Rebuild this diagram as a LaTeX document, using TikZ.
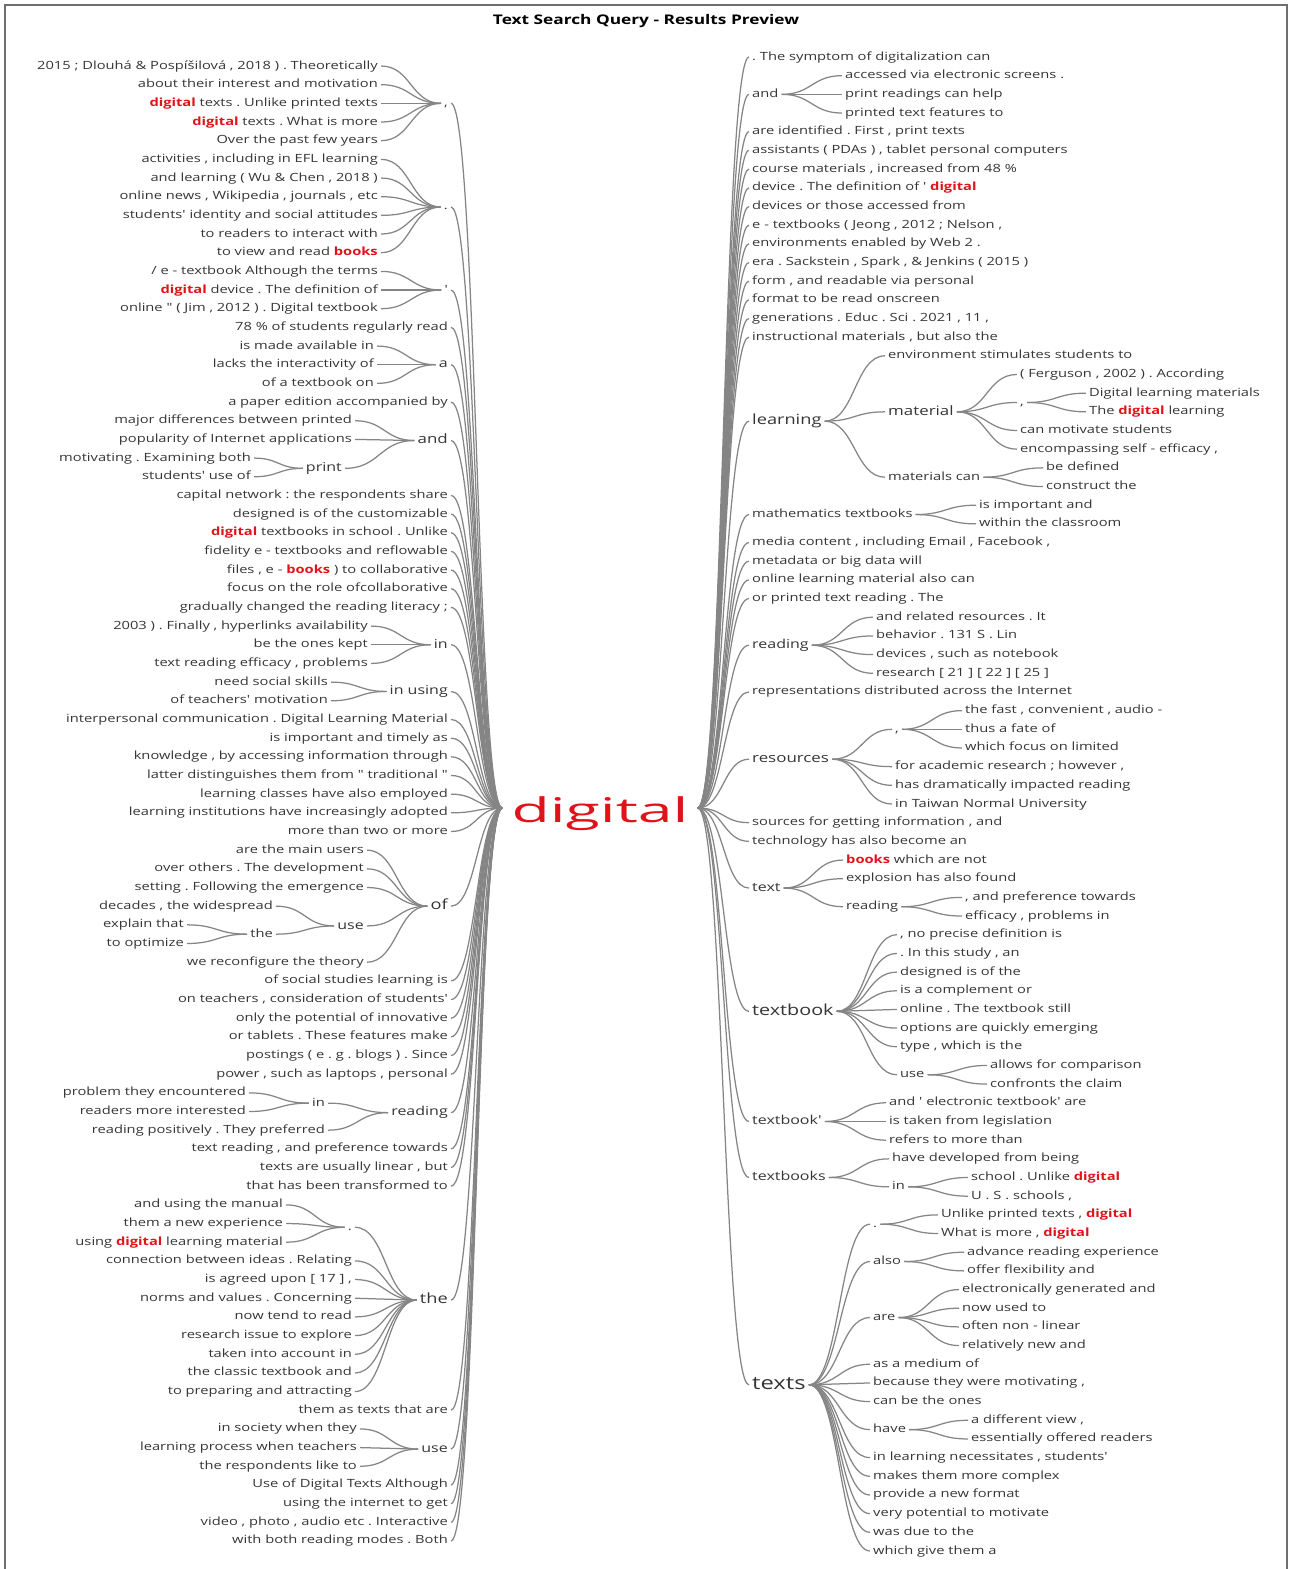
\documentclass[tikz,border=0pt]{standalone}
\usepackage{fontspec}
\usetikzlibrary{calc}
\newfontfamily\fs{Open Sans}[FakeStretch=1.3]
\newfontfamily\froot{Open Sans}[FakeStretch=1.84]
\definecolor{txt}{HTML}{353535}
\definecolor{lin}{HTML}{858585}
\definecolor{hl}{HTML}{E0131B}
\definecolor{framec}{HTML}{6E6E6E}
\newcommand\hl[1]{{\bfseries\color{hl}#1}}
\def\ly#1{66+#1*18.67}
\def\ry#1{57+#1*18.675}
\newcommand\cc[2]{\draw[conn] let \p1=(#1.east), \p2=(#2.west) in (\p1) .. controls ({(\x1+\x2)/2},\y1) and ({(\x1+\x2)/2},\y2) .. (\p2);}
\tikzset{
 wt/.style={inner xsep=3pt, inner ysep=0pt, text=txt},
 s1/.style={wt, font=\fs\frenchspacing\fontsize{11.3}{13}\selectfont, text height=8.5pt, text depth=2.5pt},
 s2/.style={wt, font=\fs\frenchspacing\fontsize{12.3}{14}\selectfont, text height=9.2pt, text depth=2.7pt},
 s3/.style={wt, font=\fs\frenchspacing\fontsize{13}{15}\selectfont, text height=9.8pt, text depth=2.9pt},
 s4/.style={wt, font=\fs\frenchspacing\fontsize{14}{16}\selectfont, text height=10.5pt, text depth=3.1pt},
 s5/.style={wt, font=\fs\frenchspacing\fontsize{15.2}{17}\selectfont, text height=11.4pt, text depth=3.3pt},
 s6/.style={wt, font=\fs\frenchspacing\fontsize{18.3}{20}\selectfont, text height=13.7pt, text depth=4pt},
 ae/.style={anchor=east}, aw/.style={anchor=west},
 conn/.style={draw=lin, line width=1.25pt},
}
\begin{document}
\frenchspacing
\begin{tikzpicture}[x=1pt,y=-1pt]
\useasboundingbox (0,0) rectangle (1290,1569);
\draw[framec, line width=2pt] (5,1569) -- (5,5) -- (1287,5) -- (1287,1569);
\node[font=\fs\bfseries\fontsize{13.3}{15}\selectfont, text=black] (title) at (646,21) {Text Search Query - Results Preview};
\node[font=\froot\fontsize{34}{36}\selectfont, text=hl, inner xsep=9pt, inner ysep=0pt, text height=34pt, text depth=6pt] (root) at (600,808) {digital};
% ---------------- left side
\node[s1,ae] (l0) at (381,\ly{0}) {2015 ; Dlouhá \& Pospíšilová , 2018 ) . Theoretically};
\node[s1,ae] (l1) at (381,\ly{1}) {about their interest and motivation};
\node[s1,ae] (l2) at (381,\ly{2}) {\hl{digital} texts . Unlike printed texts};
\node[s1,ae] (l3) at (381,\ly{3}) {\hl{digital} texts . What is more};
\node[s1,ae] (l4) at (381,\ly{4}) {Over the past few years};
\node[s1,ae] (lA) at (451,\ly{2}) {,};
\node[s1,ae] (l5) at (381,\ly{5}) {activities , including in EFL learning};
\node[s1,ae] (l6) at (381,\ly{6}) {and learning ( Wu \& Chen , 2018 )};
\node[s1,ae] (l7) at (381,\ly{7}) {online news , Wikipedia , journals , etc};
\node[s1,ae] (l8) at (381,\ly{8}) {students' identity and social attitudes};
\node[s1,ae] (l9) at (381,\ly{9}) {to readers to interact with};
\node[s1,ae] (l10) at (381,\ly{10}) {to view and read \hl{books}};
\node[s1,ae] (lB) at (451,\ly{7.55}) {.};
\node[s1,ae] (l11) at (381,\ly{11}) {/ e - textbook Although the terms};
\node[s1,ae] (l12) at (381,\ly{12}) {\hl{digital} device . The definition of};
\node[s1,ae] (l13) at (381,\ly{13}) {online " ( Jim , 2012 ) . Digital textbook};
\node[s1,ae] (lC) at (451,\ly{12}) {'};
\node[s1,ae] (l14) at (451,\ly{14}) {78 \% of students regularly read};
\node[s1,ae] (l15) at (377,\ly{15}) {is made available in};
\node[s1,ae] (l16) at (377,\ly{16}) {lacks the interactivity of};
\node[s1,ae] (l17) at (377,\ly{17}) {of a textbook on};
\node[s2,ae] (la) at (451,\ly{16}) {a};
\node[s1,ae] (l18) at (451,\ly{18}) {a paper edition accompanied by};
\node[s1,ae] (l19) at (355,\ly{19}) {major differences between printed};
\node[s1,ae] (l20) at (355,\ly{20}) {popularity of Internet applications};
\node[s1,ae] (l21) at (254,\ly{21}) {motivating . Examining both};
\node[s1,ae] (l22) at (254,\ly{22}) {students' use of};
\node[s2,ae] (lprint) at (345,\ly{21.55}) {print};
\node[s3,ae] (land) at (451,\ly{20.06}) {and};
\node[s1,ae] (l23) at (451,\ly{23}) {capital network : the respondents share};
\node[s1,ae] (l24) at (451,\ly{24}) {designed is of the customizable};
\node[s1,ae] (l25) at (451,\ly{25}) {\hl{digital} textbooks in school . Unlike};
\node[s1,ae] (l26) at (451,\ly{26}) {fidelity e - textbooks and reflowable};
\node[s1,ae] (l27) at (451,\ly{27}) {files , e - \hl{books} ) to collaborative};
\node[s1,ae] (l28) at (451,\ly{28}) {focus on the role ofcollaborative};
\node[s1,ae] (l29) at (451,\ly{29}) {gradually changed the reading literacy ;};
\node[s1,ae] (l30) at (371,\ly{30}) {2003 ) . Finally , hyperlinks availability};
\node[s1,ae] (l31) at (371,\ly{31}) {be the ones kept};
\node[s1,ae] (l32) at (371,\ly{32}) {text reading efficacy , problems};
\node[s2,ae] (lin) at (451,\ly{31}) {in};
\node[s1,ae] (l33) at (331,\ly{33}) {need social skills};
\node[s1,ae] (l34) at (331,\ly{34}) {of teachers' motivation};
\node[s2,ae] (linu) at (451,\ly{33.5}) {in using};
\node[s1,ae] (l35) at (451,\ly{35}) {interpersonal communication . Digital Learning Material};
\node[s1,ae] (l36) at (451,\ly{36}) {is important and timely as};
\node[s1,ae] (l37) at (451,\ly{37}) {knowledge , by accessing information through};
\node[s1,ae] (l38) at (451,\ly{38}) {latter distinguishes them from " traditional "};
\node[s1,ae] (l39) at (451,\ly{39}) {learning classes have also employed};
\node[s1,ae] (l40) at (451,\ly{40}) {learning institutions have increasingly adopted};
\node[s1,ae] (l41) at (451,\ly{41}) {more than two or more};
\node[s1,ae] (l42) at (367,\ly{42}) {are the main users};
\node[s1,ae] (l43) at (367,\ly{43}) {over others . The development};
\node[s1,ae] (l44) at (367,\ly{44}) {setting . Following the emergence};
\node[s1,ae] (l45) at (276,\ly{45}) {decades , the widespread};
\node[s1,ae] (l46) at (187,\ly{46}) {explain that};
\node[s1,ae] (l47) at (187,\ly{47}) {to optimize};
\node[s1,ae] (lthe3) at (276,\ly{46.5}) {the};
\node[s2,ae] (luse) at (367,\ly{46.06}) {use};
\node[s1,ae] (l48) at (367,\ly{48}) {we reconfigure the theory};
\node[s4,ae] (lof) at (451,\ly{45}) {of};
\node[s1,ae] (l49) at (451,\ly{49}) {of social studies learning is};
\node[s1,ae] (l50) at (451,\ly{50}) {on teachers , consideration of students'};
\node[s1,ae] (l51) at (451,\ly{51}) {only the potential of innovative};
\node[s1,ae] (l52) at (451,\ly{52}) {or tablets . These features make};
\node[s1,ae] (l53) at (451,\ly{53}) {postings ( e . g . blogs ) . Since};
\node[s1,ae] (l54) at (451,\ly{54}) {power , such as laptops , personal};
\node[s1,ae] (l55) at (249,\ly{55}) {problem they encountered};
\node[s1,ae] (l56) at (249,\ly{56}) {readers more interested};
\node[s1,ae] (lin2) at (328,\ly{55.55}) {in};
\node[s1,ae] (l57) at (328,\ly{57}) {reading positively . They preferred};
\node[s2,ae] (lread) at (451,\ly{56.06}) {reading};
\node[s1,ae] (l58) at (451,\ly{58}) {text reading , and preference towards};
\node[s1,ae] (l59) at (451,\ly{59}) {texts are usually linear , but};
\node[s1,ae] (l60) at (451,\ly{60}) {that has been transformed to};
\node[s1,ae] (l61) at (286,\ly{61}) {and using the manual};
\node[s1,ae] (l62) at (286,\ly{62}) {them a new experience};
\node[s1,ae] (l63) at (286,\ly{63}) {using \hl{digital} learning material};
\node[s1,ae] (ldot) at (355,\ly{62.2}) {.};
\node[s1,ae] (l64) at (355,\ly{64}) {connection between ideas . Relating};
\node[s1,ae] (l65) at (355,\ly{65}) {is agreed upon [ 17 ] ,};
\node[s1,ae] (l66) at (355,\ly{66}) {norms and values . Concerning};
\node[s1,ae] (l67) at (355,\ly{67}) {now tend to read};
\node[s1,ae] (l68) at (355,\ly{68}) {research issue to explore};
\node[s1,ae] (l69) at (355,\ly{69}) {taken into account in};
\node[s1,ae] (l70) at (355,\ly{70}) {the classic textbook and};
\node[s1,ae] (l71) at (355,\ly{71}) {to preparing and attracting};
\node[s4,ae] (lthe) at (451,\ly{66.1}) {the};
\node[s1,ae] (l72) at (451,\ly{72}) {them as texts that are};
\node[s1,ae] (l73) at (360,\ly{73}) {in society when they};
\node[s1,ae] (l74) at (360,\ly{74}) {learning process when teachers};
\node[s1,ae] (l75) at (360,\ly{75}) {the respondents like to};
\node[s2,ae] (luse2) at (451,\ly{74.08}) {use};
\node[s1,ae] (l76) at (451,\ly{76}) {Use of Digital Texts Although};
\node[s1,ae] (l77) at (451,\ly{77}) {using the internet to get};
\node[s1,ae] (l78) at (451,\ly{78}) {video , photo , audio etc . Interactive};
\node[s1,ae] (l79) at (451,\ly{79}) {with both reading modes . Both};
% ---------------- right side
\node[s1,aw] (r0) at (749,\ry{0}) {. The symptom of digitalization can};
\node[s1,aw] (rand) at (749,\ry{2}) {and};
\node[s1,aw] (r1) at (842,\ry{1}) {accessed via electronic screens .};
\node[s1,aw] (r2) at (842,\ry{2}) {print readings can help};
\node[s1,aw] (r3) at (842,\ry{3}) {printed text features to};
\node[s1,aw] (r4) at (749,\ry{4}) {are identified . First , print texts};
\node[s1,aw] (r5) at (749,\ry{5}) {assistants ( PDAs ) , tablet personal computers};
\node[s1,aw] (r6) at (749,\ry{6}) {course materials , increased from 48 \%};
\node[s1,aw] (r7) at (749,\ry{7}) {device . The definition of ' \hl{digital}};
\node[s1,aw] (r8) at (749,\ry{8}) {devices or those accessed from};
\node[s1,aw] (r9) at (749,\ry{9}) {e - textbooks ( Jeong , 2012 ; Nelson ,};
\node[s1,aw] (r10) at (749,\ry{10}) {environments enabled by Web 2 .};
\node[s1,aw] (r11) at (749,\ry{11}) {era . Sackstein , Spark , \& Jenkins ( 2015 )};
\node[s1,aw] (r12) at (749,\ry{12}) {form , and readable via personal};
\node[s1,aw] (r13) at (749,\ry{13}) {format to be read onscreen};
\node[s1,aw] (r14) at (749,\ry{14}) {generations . Educ . Sci . 2021 , 11 ,};
\node[s1,aw] (r15) at (749,\ry{15}) {instructional materials , but also the};
\node[s4,aw] (rlearn) at (749,\ry{19.5}) {learning};
\node[s1,aw] (r16) at (885,\ry{16}) {environment stimulates students to};
\node[s3,aw] (rmat) at (885,\ry{19}) {material};
\node[s1,aw] (r17) at (1017,\ry{17}) {( Ferguson , 2002 ) . According};
\node[s1,aw] (rcom) at (1017,\ry{18.5}) {,};
\node[s1,aw] (r18) at (1086,\ry{18}) {Digital learning materials};
\node[s1,aw] (r19) at (1086,\ry{19}) {The \hl{digital} learning};
\node[s1,aw] (r20) at (1017,\ry{20}) {can motivate students};
\node[s1,aw] (r21) at (1017,\ry{21}) {encompassing self - efficacy ,};
\node[s1,aw] (rmatc) at (885,\ry{22.5}) {materials can};
\node[s1,aw] (r22) at (1043,\ry{22}) {be defined};
\node[s1,aw] (r23) at (1043,\ry{23}) {construct the};
\node[s1,aw] (rmath) at (749,\ry{24.5}) {mathematics textbooks};
\node[s1,aw] (r24) at (976,\ry{24}) {is important and};
\node[s1,aw] (r25) at (976,\ry{25}) {within the classroom};
\node[s1,aw] (r26) at (749,\ry{26}) {media content , including Email , Facebook ,};
\node[s1,aw] (r27) at (749,\ry{27}) {metadata or big data will};
\node[s1,aw] (r28) at (749,\ry{28}) {online learning material also can};
\node[s1,aw] (r29) at (749,\ry{29}) {or printed text reading . The};
\node[s2,aw] (rread) at (749,\ry{31.5}) {reading};
\node[s1,aw] (r30) at (873,\ry{30}) {and related resources . It};
\node[s1,aw] (r31) at (873,\ry{31}) {behavior . 131 S . Lin};
\node[s1,aw] (r32) at (873,\ry{32}) {devices , such as notebook};
\node[s1,aw] (r33) at (873,\ry{33}) {research [ 21 ] [ 22 ] [ 25 ]};
\node[s1,aw] (r34) at (749,\ry{34}) {representations distributed across the Internet};
\node[s3,aw] (rres) at (749,\ry{37.6}) {resources};
\node[s1,aw] (rcom2) at (892,\ry{36}) {,};
\node[s1,aw] (r35) at (962,\ry{35}) {the fast , convenient , audio -};
\node[s1,aw] (r36) at (962,\ry{36}) {thus a fate of};
\node[s1,aw] (r37) at (962,\ry{37}) {which focus on limited};
\node[s1,aw] (r38) at (892,\ry{38}) {for academic research ; however ,};
\node[s1,aw] (r39) at (892,\ry{39}) {has dramatically impacted reading};
\node[s1,aw] (r40) at (892,\ry{40}) {in Taiwan Normal University};
\node[s1,aw] (r41) at (749,\ry{41}) {sources for getting information , and};
\node[s1,aw] (r42) at (749,\ry{42}) {technology has also become an};
\node[s2,aw] (rtext) at (749,\ry{44.5}) {text};
\node[s1,aw] (r43) at (843,\ry{43}) {\hl{books} which are not};
\node[s1,aw] (r44) at (843,\ry{44}) {explosion has also found};
\node[s1,aw] (rread2) at (843,\ry{45.5}) {reading};
\node[s1,aw] (r45) at (962,\ry{45}) {, and preference towards};
\node[s1,aw] (r46) at (962,\ry{46}) {efficacy , problems in};
\node[s5,aw] (rtb) at (749,\ry{51.1}) {textbook};
\node[s1,aw] (r47) at (897,\ry{47}) {, no precise definition is};
\node[s1,aw] (r48) at (897,\ry{48}) {. In this study , an};
\node[s1,aw] (r49) at (897,\ry{49}) {designed is of the};
\node[s1,aw] (r50) at (897,\ry{50}) {is a complement or};
\node[s1,aw] (r51) at (897,\ry{51}) {online . The textbook still};
\node[s1,aw] (r52) at (897,\ry{52}) {options are quickly emerging};
\node[s1,aw] (r53) at (897,\ry{53}) {type , which is the};
\node[s1,aw] (ruse) at (897,\ry{54.5}) {use};
\node[s1,aw] (r54) at (987,\ry{54}) {allows for comparison};
\node[s1,aw] (r55) at (987,\ry{55}) {confronts the claim};
\node[s2,aw] (rtbq) at (749,\ry{57}) {textbook'};
\node[s1,aw] (r56) at (886,\ry{56}) {and ' electronic textbook' are};
\node[s1,aw] (r57) at (886,\ry{57}) {is taken from legislation};
\node[s1,aw] (r58) at (886,\ry{58}) {refers to more than};
\node[s2,aw] (rtbs) at (749,\ry{60}) {textbooks};
\node[s1,aw] (r59) at (889,\ry{59}) {have developed from being};
\node[s1,aw] (rin) at (889,\ry{60.5}) {in};
\node[s1,aw] (r60) at (968,\ry{60}) {school . Unlike \hl{digital}};
\node[s1,aw] (r61) at (968,\ry{61}) {U . S . schools ,};
\node[s6,aw] (rtexts) at (749,\ry{71.1}) {texts};
\node[s1,aw] (rdot) at (870,\ry{62.5}) {.};
\node[s1,aw] (r62) at (938,\ry{62}) {Unlike printed texts , \hl{digital}};
\node[s1,aw] (r63) at (938,\ry{63}) {What is more , \hl{digital}};
\node[s1,aw] (ralso) at (870,\ry{64.5}) {also};
\node[s1,aw] (r64) at (964,\ry{64}) {advance reading experience};
\node[s1,aw] (r65) at (964,\ry{65}) {offer flexibility and};
\node[s1,aw] (rare) at (870,\ry{67.5}) {are};
\node[s1,aw] (r66) at (959,\ry{66}) {electronically generated and};
\node[s1,aw] (r67) at (959,\ry{67}) {now used to};
\node[s1,aw] (r68) at (959,\ry{68}) {often non - linear};
\node[s1,aw] (r69) at (959,\ry{69}) {relatively new and};
\node[s1,aw] (r70) at (870,\ry{70}) {as a medium of};
\node[s1,aw] (r71) at (870,\ry{71}) {because they were motivating ,};
\node[s1,aw] (r72) at (870,\ry{72}) {can be the ones};
\node[s1,aw] (rhave) at (870,\ry{73.5}) {have};
\node[s1,aw] (r73) at (968,\ry{73}) {a different view ,};
\node[s1,aw] (r74) at (968,\ry{74}) {essentially offered readers};
\node[s1,aw] (r75) at (870,\ry{75}) {in learning necessitates , students'};
\node[s1,aw] (r76) at (870,\ry{76}) {makes them more complex};
\node[s1,aw] (r77) at (870,\ry{77}) {provide a new format};
\node[s1,aw] (r78) at (870,\ry{78}) {very potential to motivate};
\node[s1,aw] (r79) at (870,\ry{79}) {was due to the};
\node[s1,aw] (r80) at (870,\ry{80}) {which give them a};
% ---------------- connectors, left
\foreach \v in {l0,l1,l2,l3,l4} {\cc{\v}{lA}}
\foreach \v in {l5,l6,l7,l8,l9,l10} {\cc{\v}{lB}}
\foreach \v in {l11,l12,l13} {\cc{\v}{lC}}
\foreach \v in {l15,l16,l17} {\cc{\v}{la}}
\foreach \v in {l21,l22} {\cc{\v}{lprint}}
\foreach \v in {l19,l20,lprint} {\cc{\v}{land}}
\foreach \v in {l30,l31,l32} {\cc{\v}{lin}}
\foreach \v in {l33,l34} {\cc{\v}{linu}}
\foreach \v in {l46,l47} {\cc{\v}{lthe3}}
\foreach \v in {l45,lthe3} {\cc{\v}{luse}}
\foreach \v in {l42,l43,l44,luse,l48} {\cc{\v}{lof}}
\foreach \v in {l55,l56} {\cc{\v}{lin2}}
\foreach \v in {lin2,l57} {\cc{\v}{lread}}
\foreach \v in {l61,l62,l63} {\cc{\v}{ldot}}
\foreach \v in {ldot,l64,l65,l66,l67,l68,l69,l70,l71} {\cc{\v}{lthe}}
\foreach \v in {l73,l74,l75} {\cc{\v}{luse2}}
\foreach \v in {lA,lB,lC,l14,la,l18,land,l23,l24,l25,l26,l27,l28,l29,lin,linu,l35,l36,l37,l38,l39,l40,l41,lof,l49,l50,l51,l52,l53,l54,lread,l58,l59,l60,lthe,l72,luse2,l76,l77,l78,l79} {\cc{\v}{root}}
% ---------------- connectors, right
\foreach \v in {r0,rand,r4,r5,r6,r7,r8,r9,r10,r11,r12,r13,r14,r15,rlearn,rmath,r26,r27,r28,r29,rread,r34,rres,r41,r42,rtext,rtb,rtbq,rtbs,rtexts} {\cc{root}{\v}}
\foreach \v in {r1,r2,r3} {\cc{rand}{\v}}
\foreach \v in {r16,rmat,rmatc} {\cc{rlearn}{\v}}
\foreach \v in {r17,rcom,r20,r21} {\cc{rmat}{\v}}
\foreach \v in {r18,r19} {\cc{rcom}{\v}}
\foreach \v in {r22,r23} {\cc{rmatc}{\v}}
\foreach \v in {r24,r25} {\cc{rmath}{\v}}
\foreach \v in {r30,r31,r32,r33} {\cc{rread}{\v}}
\foreach \v in {rcom2,r38,r39,r40} {\cc{rres}{\v}}
\foreach \v in {r35,r36,r37} {\cc{rcom2}{\v}}
\foreach \v in {r43,r44,rread2} {\cc{rtext}{\v}}
\foreach \v in {r45,r46} {\cc{rread2}{\v}}
\foreach \v in {r47,r48,r49,r50,r51,r52,r53,ruse} {\cc{rtb}{\v}}
\foreach \v in {r54,r55} {\cc{ruse}{\v}}
\foreach \v in {r56,r57,r58} {\cc{rtbq}{\v}}
\foreach \v in {r59,rin} {\cc{rtbs}{\v}}
\foreach \v in {r60,r61} {\cc{rin}{\v}}
\foreach \v in {rdot,ralso,rare,r70,r71,r72,rhave,r75,r76,r77,r78,r79,r80} {\cc{rtexts}{\v}}
\foreach \v in {r62,r63} {\cc{rdot}{\v}}
\foreach \v in {r64,r65} {\cc{ralso}{\v}}
\foreach \v in {r66,r67,r68,r69} {\cc{rare}{\v}}
\foreach \v in {r73,r74} {\cc{rhave}{\v}}
\end{tikzpicture}
\end{document}
